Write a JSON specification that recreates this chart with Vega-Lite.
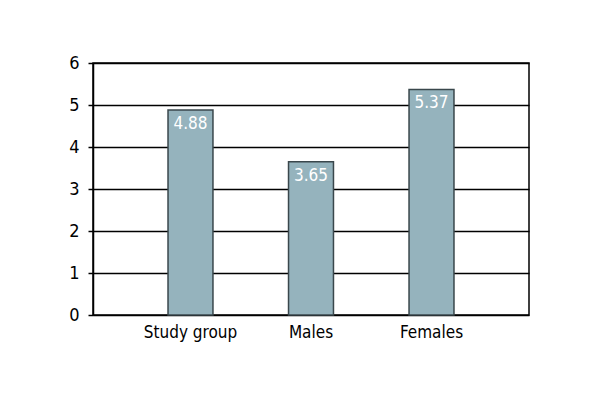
{
  "$schema": "https://vega.github.io/schema/vega-lite/v6.json",
  "width": 436,
  "height": 252,
  "autosize": {"type": "none"},
  "padding": {"left": 93, "top": 63, "right": 71, "bottom": 85},
  "background": "white",
  "config": {
    "view": {"stroke": "black", "strokeWidth": 1.5},
    "font": "'Liberation Sans Narrow', 'DejaVu Sans Condensed', Roboto, sans-serif"
  },
  "data": {
    "values": [
      {"group": "Study group", "value": 4.88},
      {"group": "Males", "value": 3.65},
      {"group": "Females", "value": 5.37}
    ]
  },
  "encoding": {
    "x": {
      "field": "group",
      "type": "nominal",
      "sort": null,
      "scale": {"paddingInner": 0.627, "paddingOuter": 0.6225, "align": 0.5},
      "axis": {
        "title": null,
        "labelAngle": 0,
        "ticks": false,
        "domain": false,
        "labelFontSize": 17,
        "labelColor": "black",
        "labelPadding": 9,
        "labelFont": "'Liberation Sans Narrow', 'DejaVu Sans Condensed', Roboto, sans-serif"
      }
    },
    "y": {
      "field": "value",
      "type": "quantitative",
      "scale": {"domain": [0, 6], "nice": false},
      "axis": {
        "title": null,
        "values": [0, 1, 2, 3, 4, 5, 6],
        "grid": true,
        "gridColor": "black",
        "gridWidth": 1.5,
        "gridOpacity": 1,
        "domainColor": "black",
        "domainWidth": 1.5,
        "tickColor": "black",
        "tickWidth": 1.5,
        "tickSize": 5,
        "labelPadding": 9,
        "labelFontSize": 18,
        "labelColor": "black",
        "labelFont": "'Liberation Sans Narrow', 'DejaVu Sans Condensed', Roboto, sans-serif"
      }
    }
  },
  "layer": [
    {
      "mark": {"type": "bar", "color": "#95b3bd", "stroke": "#3a474c", "strokeWidth": 1.5}
    },
    {
      "mark": {
        "type": "text",
        "color": "white",
        "fontSize": 17,
        "baseline": "top",
        "dy": 6,
        "font": "'Liberation Sans Narrow', 'DejaVu Sans Condensed', Roboto, sans-serif"
      },
      "encoding": {"text": {"field": "value", "type": "quantitative", "format": ".2f"}}
    }
  ]
}
